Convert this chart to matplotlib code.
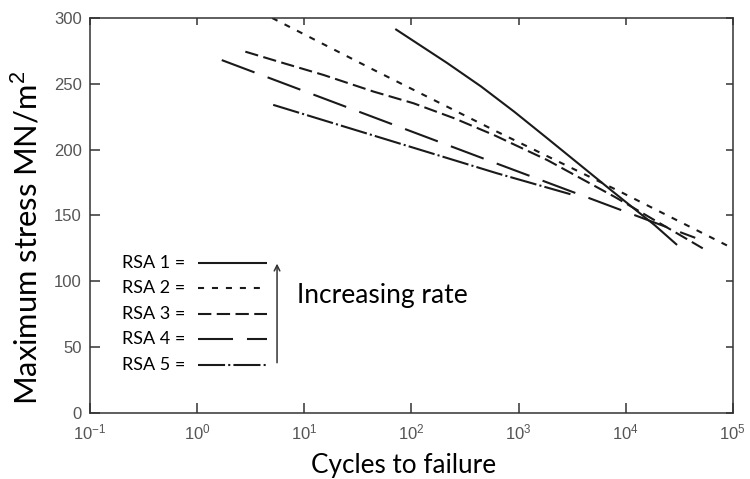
import matplotlib
matplotlib.use("Agg")
import matplotlib.pyplot as plt
from matplotlib.ticker import FixedLocator, FixedFormatter, NullLocator

plt.rcParams['font.family'] = ['Liberation Sans', 'DejaVu Sans']
plt.rcParams['mathtext.fontset'] = 'custom'
plt.rcParams['mathtext.rm'] = 'Liberation Sans'

# cycles to failure given as powers of ten, stress in MN/m^2
rsa1_exp = [1.85, 2.33, 2.65, 2.96, 3.27, 3.58, 3.89, 4.27, 4.48]
rsa1_stress = [291.6, 266.0, 248.0, 228.8, 208.5, 188.0, 167.5, 142.7, 127.6]

rsa2_exp = [0.70, 1.65, 2.80, 3.95, 5.0]
rsa2_stress = [300, 260.5, 213.6, 168, 125]

rsa3_exp = [0.45, 0.81, 1.18, 1.65, 2.02, 2.40, 2.77, 3.27, 3.90, 4.72]
rsa3_stress = [274.4, 265.6, 256.7, 244.0, 235.2, 223.8, 211.1, 192, 164, 125]

rsa4_exp = [0.23, 2.83, 4.65]
rsa4_stress = [268, 188.4, 133]

rsa5_exp = [0.71, 2.80, 3.49]
rsa5_stress = [234, 182, 166]

labels = ['RSA 1 =', 'RSA 2 =', 'RSA 3 =', 'RSA 4 =', 'RSA 5 =']
x_exps = [-1, 0, 1, 2, 3, 4, 5]
y_ticks = [0, 50, 100, 150, 200, 250, 300]

LW = 1.5
styles = [
    (0, ()),
    (0, (2.9, 3.8)),
    (0, (6.4, 2.6)),
    (0, (16.8, 6.7)),
    (0, (13, 1.5, 1.0, 1.5)),
]

series = [
    (rsa1_exp, rsa1_stress),
    (rsa2_exp, rsa2_stress),
    (rsa3_exp, rsa3_stress),
    (rsa4_exp, rsa4_stress),
    (rsa5_exp, rsa5_stress),
]

fig = plt.figure(figsize=(7.5, 4.79), dpi=100)
ax = fig.add_axes([0.12, 0.138, 0.857, 0.8245])

for (e, s), ls in zip(series, styles):
    ax.plot([10 ** v for v in e], s, color='#1a1a1a', lw=LW, linestyle=ls,
            solid_capstyle='butt', dash_capstyle='butt', solid_joinstyle='round')

ax.set_xscale('log')
ax.set_xlim(10 ** x_exps[0], 10 ** x_exps[-1])
ax.set_ylim(y_ticks[0], y_ticks[-1])

ax.xaxis.set_major_locator(FixedLocator([10.0 ** e for e in x_exps]))
ax.xaxis.set_major_formatter(FixedFormatter([r'$\mathregular{10^{%d}}$' % e for e in x_exps]))
ax.xaxis.set_minor_locator(NullLocator())
ax.set_yticks(y_ticks)

for sp in ax.spines.values():
    sp.set_linewidth(1.1)
    sp.set_color('#333333')

ax.tick_params(which='major', direction='in', length=7.5, width=1.1,
               color='#333333', labelcolor='#555555', labelsize=12,
               top=True, right=True)
ax.tick_params(axis='x', pad=7)
ax.tick_params(axis='y', pad=6)
# shorter ticks on the top and right edges
for t in ax.xaxis.get_major_ticks():
    t.tick2line.set_markersize(5)
for t in ax.yaxis.get_major_ticks():
    t.tick2line.set_markersize(5)

ax.set_xlabel('Cycles to failure', family='Lato', fontsize=20, va='baseline')
ax.set_ylabel('Maximum stress MN/m$^2$', family='Lato', fontsize=24, va='baseline')
ax.xaxis.set_label_coords(0.488, -0.152)
ax.yaxis.set_label_coords(-0.081, 0.443)

# key drawn inside the axes
row_y = [0.380, 0.316, 0.251, 0.187, 0.122]
for lab, ls, yy in zip(labels, styles, row_y):
    ax.text(0.050, yy, lab, transform=ax.transAxes, family='Lato', fontsize=13,
            va='center', ha='left', color='black')
    ax.plot([0.168, 0.275], [yy, yy], transform=ax.transAxes, color='#1a1a1a',
            lw=LW, linestyle=ls, dash_capstyle='butt', clip_on=False)

ax.annotate('', xy=(0.291, 0.385), xytext=(0.291, 0.120), xycoords='axes fraction',
            arrowprops=dict(arrowstyle='->', color='#333333', lw=1.1))
ax.text(0.322, 0.296, 'Increasing rate', transform=ax.transAxes, family='Lato',
        fontsize=19, va='center', ha='left', color='black')

# size the axis titles to a fixed length in pixels
fig.canvas.draw()
renderer = fig.canvas.get_renderer()
for lab, target in ((ax.xaxis.label, 185), (ax.yaxis.label, 335)):
    ext = lab.get_window_extent(renderer)
    lab.set_fontsize(lab.get_fontsize() * target / max(ext.width, ext.height))

fig.savefig('out.png', dpi=100)
